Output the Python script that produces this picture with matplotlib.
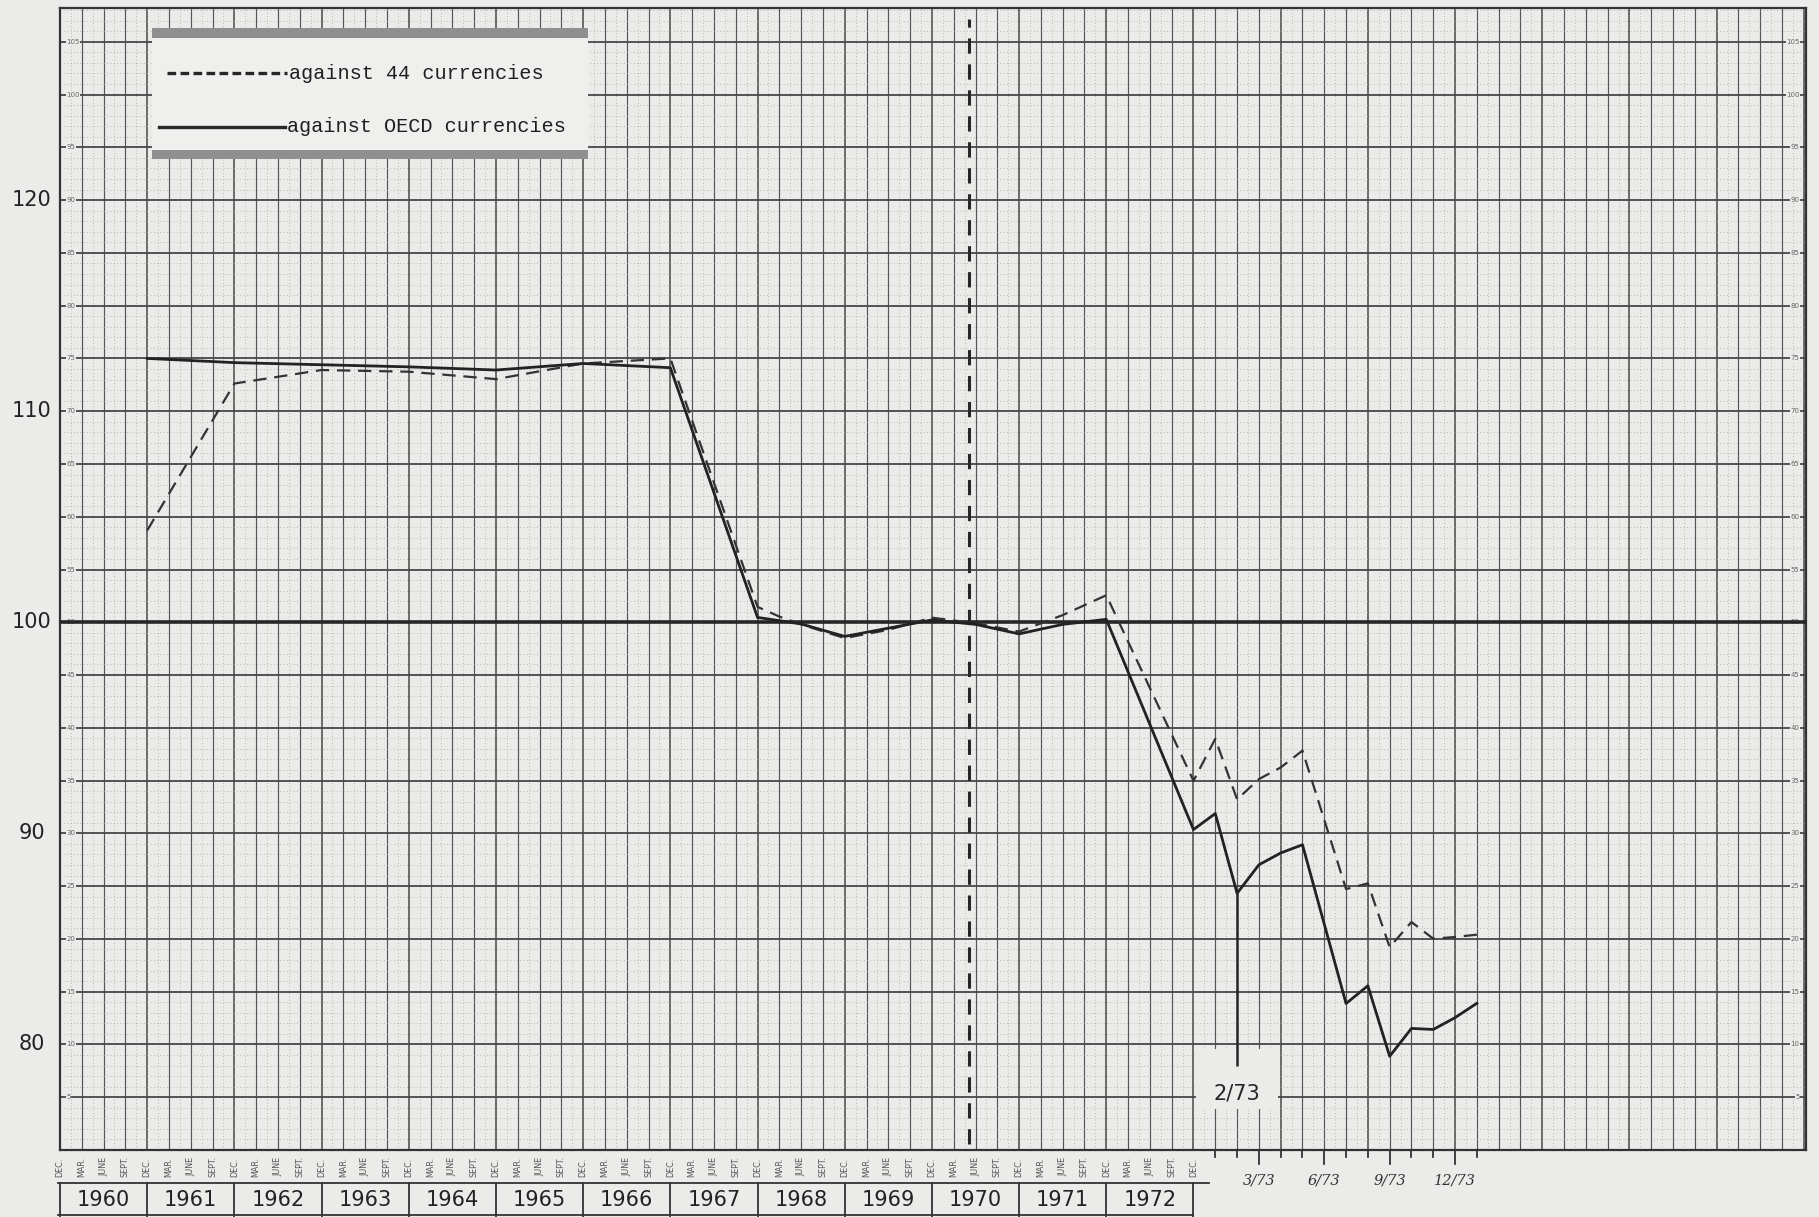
import numpy as np
import matplotlib.pyplot as plt
from matplotlib.patches import Rectangle

# x is counted in grid steps: one step = one quarter up to Dec 1972, one month after
years = list(range(1960, 1973))
quarter_names = ['DEC.', 'MAR.', 'JUNE', 'SEPT.']
month_steps = [55, 58, 61, 64]
month_labels = ['3/73', '6/73', '9/73', '12/73']
index_labels = [120, 110, 100, 90, 80]
paper_labels = list(range(105, 0, -5))

# against OECD currencies (solid)
steps_oecd = [4, 8, 12, 16, 20, 24, 28, 32, 34, 36, 40, 42, 44, 46, 48,
              52, 53, 54, 55, 56, 57, 59, 60, 61, 62, 63, 64, 65]
oecd = [112.5, 112.3, 112.2, 112.1, 111.95, 112.26, 112.06, 100.23, 99.92, 99.33,
        100.11, 99.9, 99.45, 99.9, 100.14,
        90.18, 90.94, 87.16, 88.51, 89.07, 89.46, 81.94, 82.78, 79.44, 80.76,
        80.71, 81.27, 81.95]

# against 44 currencies (dashed)
steps_44 = [4, 8, 12, 16, 20, 24, 28, 32, 33, 34, 36, 38, 40, 42, 44, 46, 48,
            52, 53, 54, 55, 56, 57, 59, 60, 61, 62, 63, 64, 65]
c44 = [104.35, 111.31, 111.95, 111.87, 111.52, 112.26, 112.5, 100.73, 100.27,
       99.9, 99.25, 99.64, 100.22, 99.95, 99.56, 100.34, 101.28,
       92.49, 94.48, 91.61, 92.57, 93.12, 93.92, 87.36, 87.63, 84.61, 85.8,
       85.01, 85.09, 85.2]

paper = '#ebebe9'
ink = '#262626'

fig = plt.figure(figsize=(18.19, 12.17), dpi=100, facecolor=paper)
ax = fig.add_axes([60 / 1819, 1 - 1150 / 1217, 1746 / 1819, 1142 / 1217])
ax.set_facecolor(paper)
ax.set_xlim(0, 80.1)
ax.set_ylim(75, 129.1)
ax.set_xticks([])
ax.set_yticks([])
for s in ax.spines.values():
    s.set_linewidth(1.6)
    s.set_color('#333333')

# graph paper
dot = (0, (1, 3))
for h in np.arange(0.5, 80, 1.0):
    ax.axvline(h, color='#a5a5a5', lw=0.6, ls=dot, zorder=1)
for k in range(1, 81):
    ax.axvline(k, color='#555555', lw=1.2 if k % 4 == 0 else 0.85, zorder=1)
for y in np.arange(75.5, 129.1, 0.5):
    if abs((y - 75) / 2.5 - round((y - 75) / 2.5)) < 1e-6:
        ax.axhline(y, color='#474747', lw=1.3, zorder=1)
    else:
        ax.axhline(y, color='#a5a5a5', lw=0.6, ls=dot, zorder=1)

# small printed scale of the paper
for p in paper_labels:
    yv = 100 + (p - 50) / 2
    for xv, ha in [(0.3, 'left'), (79.8, 'right')]:
        ax.text(xv, yv, str(p), fontsize=5, color='#666666', ha=ha, va='center',
                zorder=2, bbox=dict(boxstyle='square,pad=0.05', fc=paper, ec='none'))

ax.axhline(100, color=ink, lw=2.6, zorder=3)

# legend box
ax.add_patch(Rectangle((4.2, 121.97), 20.0, 6.2, fc='#efefed', ec='none', zorder=3))
ax.add_patch(Rectangle((4.2, 127.7), 20.0, 0.45, fc='#8f8f8f', ec='none', zorder=3))
ax.add_patch(Rectangle((4.2, 121.97), 20.0, 0.42, fc='#8f8f8f', ec='none', zorder=3))
ax.plot([4.9, 10.4], [126.0, 126.0], color=ink, lw=2.4, dashes=(2.6, 1.3), zorder=4)
ax.plot([4.55, 10.3], [123.48, 123.48], color=ink, lw=2.4, zorder=4)
ax.text(10.5, 126.0, 'against 44 currencies', family='Liberation Mono', fontsize=14.5,
        color='#1e1e1e', va='center', ha='left', zorder=4)
ax.text(10.4, 123.48, 'against OECD currencies', family='Liberation Mono', fontsize=14.5,
        color='#1e1e1e', va='center', ha='left', zorder=4)

# separator and the 2/73 marker
ax.vlines(41.7, 75.3, 128.6, color=ink, lw=2.2, linestyles=(0, (5, 3.5)), zorder=4)
ax.add_patch(Rectangle((52.1, 76.96), 3.8, 2.84, fc=paper, ec='none', zorder=2))
feb = oecd[steps_oecd.index(54)]
ax.vlines(54, 79.0, feb, color=ink, lw=1.8, zorder=4)
ax.text(54, 77.7, '2/73', fontsize=15, color=ink, ha='center', va='center', zorder=4)

# the two series
ax.plot(steps_44, c44, color='#333333', lw=1.6, dashes=(6, 3.5), zorder=5)
ax.plot(steps_oecd, oecd, color='#222222', lw=2.0, zorder=5)

# index labels on the left
for v in index_labels:
    ax.text(-1.3, v, str(v), fontsize=15, color='#222222', ha='center', va='center',
            clip_on=False)

# quarter labels and year boxes below
for k in range(0, 53):
    ax.text(k, 74.2, quarter_names[k % 4], rotation=90, fontsize=5.8, color='#555555',
            ha='center', va='center', clip_on=False)
ax.plot([-0.1, 52.7], [73.44, 73.44], color='#333333', lw=1.3, clip_on=False)
ax.plot([-0.1, 52.0], [71.9, 71.9], color='#333333', lw=1.3, clip_on=False)
for i, yr in enumerate(years):
    ax.plot([4 * i, 4 * i], [71.83, 73.44], color='#333333', lw=1.3, clip_on=False)
    ax.text(4 * i + 2, 72.62, str(yr), fontsize=15, color='#222222', ha='center',
            va='center', clip_on=False)
ax.plot([52, 52], [71.83, 73.44], color='#333333', lw=1.3, clip_on=False)

# monthly ticks for 1973
for k in range(53, 66):
    low = 74.34 if k in month_steps else 74.67
    ax.plot([k, k], [75, low], color='#333333', lw=1.3, clip_on=False)
for k, lab in zip(month_steps, month_labels):
    ax.text(k, 73.55, lab, fontsize=10.5, style='italic', family='DejaVu Serif',
            color='#333333', ha='center', va='center', clip_on=False)

fig.savefig('out.png', dpi=100, facecolor=paper)
